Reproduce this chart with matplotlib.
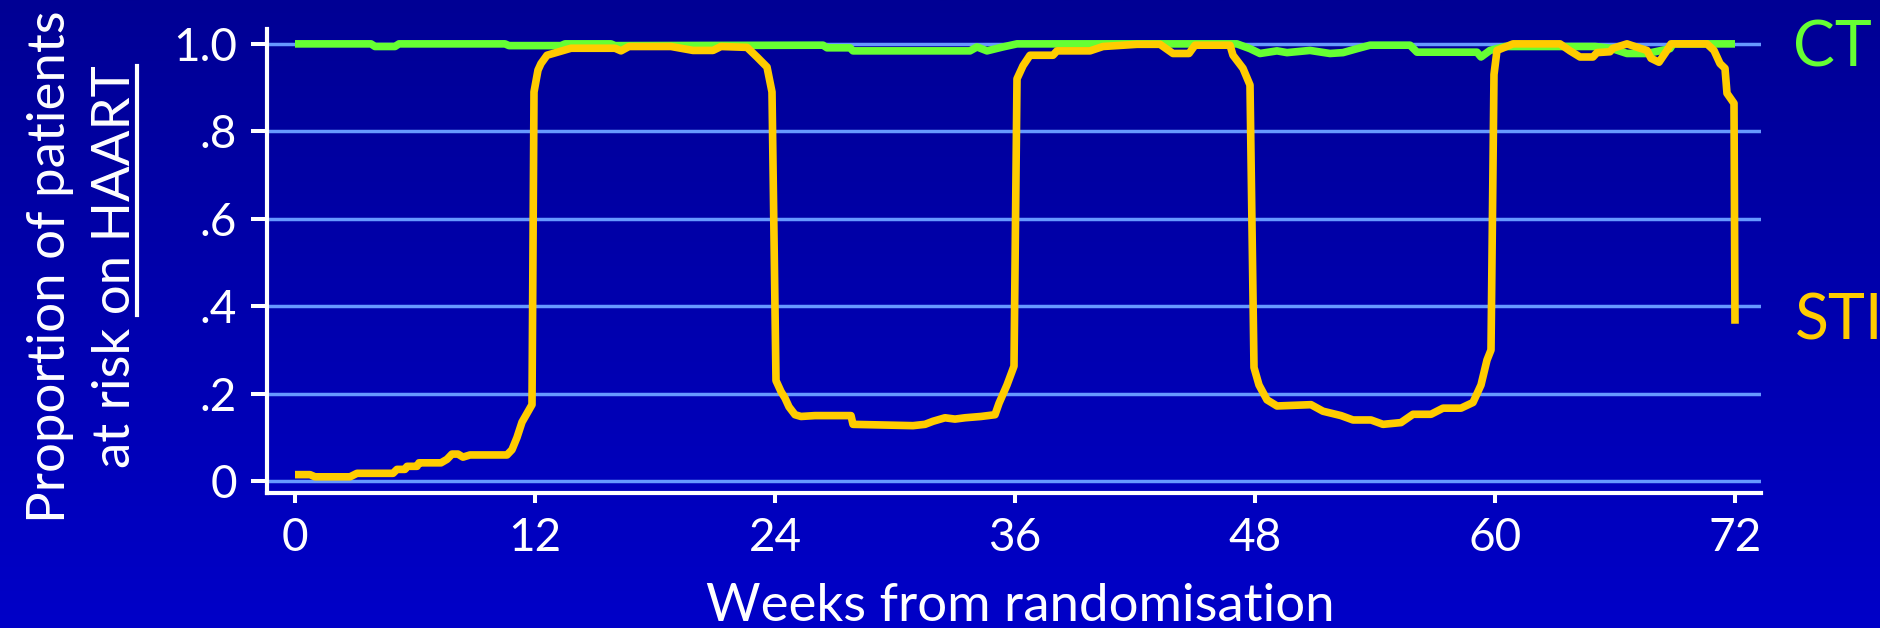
import matplotlib
matplotlib.use("Agg")
import matplotlib.pyplot as plt
import numpy as np
from matplotlib.lines import Line2D

plt.rcParams['font.family'] = ['Lato', 'DejaVu Sans']

# Data (weeks from randomisation, proportion on HAART)
sti_weeks = [0, 0.75, 1.0, 2.75, 3.1, 4.9, 5.1, 5.5, 5.6, 6.1, 6.2, 7.3, 7.6, 7.85, 8.15,
             8.4, 8.75, 10.6, 10.85, 11.1, 11.35, 11.85, 11.95, 12.15, 12.3, 12.6, 13.8,
             16.0, 16.3, 16.7, 18.8, 19.9, 20.9, 21.3, 22.6, 23.1, 23.6, 23.85, 24.05,
             24.3, 24.5, 24.7, 25.0, 25.3, 26.0, 27.8, 27.9, 30.9, 31.5, 31.9, 32.5, 33.0,
             33.5, 34.3, 35.0, 35.2, 35.6, 35.95, 36.1, 36.4, 36.75, 37.9, 38.1, 39.75,
             40.4, 42.1, 43.25, 43.9, 44.7, 45.0, 46.75, 46.9, 47.4, 47.75, 47.95, 48.2,
             48.6, 49.1, 50.8, 51.4, 52.3, 52.9, 53.8, 54.4, 55.3, 55.9, 56.8, 57.4, 58.3,
             58.9, 59.3, 59.6, 59.8, 59.95, 60.1, 60.9, 63.25, 63.75, 64.25, 64.9, 65.1,
             65.75, 65.9, 66.6, 67.25, 67.6, 67.8, 68.2, 68.6, 68.8, 70.6, 70.95, 71.25,
             71.5, 71.6, 71.95, 72.0]
sti_values = [0.015, 0.015, 0.010, 0.010, 0.018, 0.018, 0.027, 0.027, 0.034, 0.034, 0.042,
              0.042, 0.050, 0.062, 0.062, 0.055, 0.060, 0.060, 0.072, 0.100, 0.135, 0.175,
              0.890, 0.940, 0.955, 0.974, 0.990, 0.990, 0.984, 0.994, 0.994, 0.985, 0.985,
              0.994, 0.992, 0.970, 0.947, 0.890, 0.230, 0.205, 0.190, 0.170, 0.152, 0.148,
              0.150, 0.150, 0.130, 0.127, 0.130, 0.137, 0.145, 0.142, 0.145, 0.148, 0.152,
              0.178, 0.220, 0.263, 0.920, 0.950, 0.974, 0.974, 0.984, 0.984, 0.994, 0.999,
              0.999, 0.978, 0.978, 0.997, 0.997, 0.974, 0.944, 0.906, 0.260, 0.220, 0.186,
              0.172, 0.175, 0.160, 0.150, 0.140, 0.140, 0.130, 0.134, 0.153, 0.153, 0.167,
              0.167, 0.180, 0.220, 0.277, 0.300, 0.930, 0.985, 1.000, 1.000, 0.984, 0.970,
              0.970, 0.980, 0.982, 0.990, 1.000, 0.990, 0.985, 0.967, 0.958, 0.985, 1.000,
              1.000, 0.985, 0.955, 0.944, 0.887, 0.864, 0.360]

ct_weeks = [0, 3.8, 4.0, 5.0, 5.2, 10.5, 10.7, 13.3, 13.5, 15.8, 16.0, 26.4, 26.6, 27.75,
            27.9, 33.75, 34.1, 34.6, 35.4, 36.1, 47.1, 47.75, 48.25, 49.1, 49.6, 50.75,
            51.75, 52.4, 53.1, 53.75, 55.75, 56.1, 59.1, 59.3, 59.75, 60.5, 65.0, 65.8,
            66.6, 67.6, 68.75, 68.9, 72.0]
ct_values = [1.0, 1.0, 0.994, 0.994, 1.0, 1.0, 0.996, 0.996, 1.0, 1.0, 0.996, 0.997, 0.991,
             0.991, 0.984, 0.984, 0.993, 0.984, 0.993, 1.0, 1.0, 0.989, 0.978, 0.984, 0.980,
             0.985, 0.978, 0.980, 0.989, 0.997, 0.997, 0.981, 0.981, 0.970, 0.985, 0.994,
             0.994, 0.990, 0.978, 0.978, 0.989, 1.0, 1.0]

x_ticks = [0, 12, 24, 36, 48, 60, 72]
y_ticks = [0, 0.2, 0.4, 0.6, 0.8, 1.0]
y_tick_labels = ['0', '.2', '.4', '.6', '.8', '1.0']

GREEN = '#66FF33'
YELLOW = '#FFCC00'
GRID = '#6699FF'

fig = plt.figure(figsize=(18.8, 6.28), dpi=100)

# blue gradient background
bg = fig.add_axes([0, 0, 1, 1], zorder=-10)
grad = np.linspace(0, 1, 256).reshape(-1, 1)
top = np.array([0, 0, 0x94]) / 255
bottom = np.array([0, 0, 0xC8]) / 255
img = top + grad[:, :, None] * (bottom - top)
bg.imshow(img, aspect='auto', extent=[0, 1, 0, 1])
bg.axis('off')

ax = fig.add_axes([0.14202, 0.21497, 0.79468, 0.73885])
ax.set_facecolor('none')

ax.plot(ct_weeks, ct_values, color=GREEN, lw=5.5, solid_joinstyle='round',
        solid_capstyle='butt', zorder=3)
ax.plot(sti_weeks, sti_values, color=YELLOW, lw=5.5, solid_joinstyle='round',
        solid_capstyle='butt', zorder=4)

ax.set_xlim(-1.4, 73.3)
ax.set_ylim(-0.027, 1.034)
ax.set_xticks(x_ticks)
ax.set_yticks(y_ticks)
ax.set_yticklabels(y_tick_labels)

ax.yaxis.grid(True, color=GRID, lw=2.5)
ax.set_axisbelow(True)

for side in ['top', 'right']:
    ax.spines[side].set_visible(False)
for side in ['left', 'bottom']:
    ax.spines[side].set_color('white')
    ax.spines[side].set_linewidth(3)

ax.tick_params(axis='y', colors='white', length=11.5, width=2.9, pad=10, labelsize=33)
ax.tick_params(axis='x', colors='white', length=7, width=2.9, pad=10, labelsize=33)

# series labels at the right
ax.text(74.9, 0.948, 'CT', color=GREEN, fontsize=45, va='baseline', ha='left', clip_on=False)
ax.text(75.0, 0.323, 'STI', color=YELLOW, fontsize=45, va='baseline', ha='left', clip_on=False)

# axis titles
fig.text(1020 / 1880, 7 / 628, 'Weeks from randomisation', color='white', fontsize=38,
         ha='center', va='baseline')

yc = (628 - 267) / 628
fig.text(50.5 / 1880, yc, 'Proportion of patients', color='white', fontsize=38,
         rotation=90, ha='center', va='center')
line2 = fig.text(115.5 / 1880, yc, 'at risk on HAART', color='white', fontsize=38,
                 rotation=90, ha='center', va='center')

# underline "on HAART"
renderer = fig.canvas.get_renderer()
tmp = fig.text(0, 0, 'on HAART', fontsize=38)
w = tmp.get_window_extent(renderer).width
tmp.remove()
bb = line2.get_window_extent(renderer)
y_end = bb.y1 / 628
y_start = (bb.y1 - w) / 628
fig.add_artist(Line2D([137 / 1880, 137 / 1880], [y_start, y_end], color='white', lw=3))

fig.savefig('out.png', dpi=100)
